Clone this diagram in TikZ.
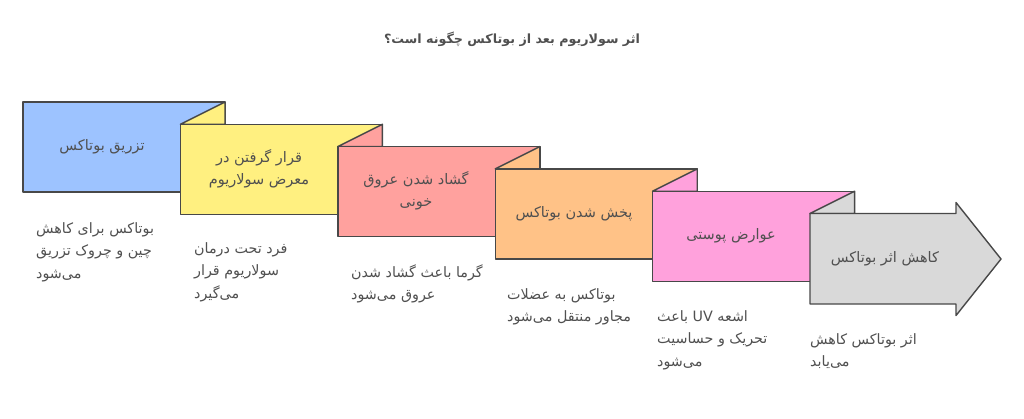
\documentclass[tikz,border=0pt]{standalone}
\usepackage{fontspec}
\newfontfamily\arabicfont[Script=Arabic]{DejaVu Sans}
\TeXXeTstate=1
\usepackage{xcolor}
\usepackage{tikz}
\definecolor{boxblue}{RGB}{157,195,255}
\definecolor{boxyellow}{RGB}{255,240,128}
\definecolor{boxred}{RGB}{255,161,158}
\definecolor{boxorange}{RGB}{255,194,135}
\definecolor{boxpink}{RGB}{255,161,220}
\definecolor{boxgray}{RGB}{217,217,217}
\definecolor{linegray}{RGB}{72,72,72}
\definecolor{txtgray}{RGB}{80,80,80}

\begin{document}
\begin{tikzpicture}[
    x=1pt, y=-1pt,
    panel/.style={draw=linegray, line width=1.4pt, line join=round},
    steplabel/.style={text=txtgray, font=\arabicfont\fontsize{14.5}{22}\selectfont, align=center},
    note/.style={text=txtgray, font=\arabicfont\fontsize{14.3}{22.5}\selectfont, align=left, anchor=north west, inner sep=0pt}
]
    \useasboundingbox (0,0) rectangle (1024,418);

    % Title
    \node[text=txtgray, font=\arabicfont\bfseries\fontsize{12.7}{15}\selectfont] (title) at (512,39)
        {\beginR اثر سولاریوم بعد از بوتاکس چگونه است؟\endR};

    % Folded panels
    \foreach \i/\col/\nxt in {0/boxblue/boxyellow, 1/boxyellow/boxred, 2/boxred/boxorange, 3/boxorange/boxpink, 4/boxpink/boxgray} {
        \draw[panel, fill=\col] ({23+157.4*\i},{102+22.3*\i}) rectangle ++(202,90);
        \draw[panel, fill=\nxt] ({23+157.4*(\i+1)},{102+22.3*(\i+1)}) -- ({225+157.4*\i},{102+22.3*\i})
            -- ({225+157.4*\i},{102+22.3*(\i+1)}) -- cycle;
    }

    % Arrow
    \draw[panel, fill=boxgray] (810,213.5) -- (956,213.5) -- (956,202.5) -- (1001,259) -- (956,315.5)
        -- (956,304) -- (810,304) -- cycle;

    % Step labels
    \foreach \name/\x/\y/\txt in {
        s1/102/147/{\beginR تزریق بوتاکس\endR},
        s2/259/169/{\beginR قرار گرفتن در\endR\\\beginR معرض سولاریوم\endR},
        s3/416/191/{\beginR گشاد شدن عروق\endR\\\beginR خونی\endR},
        s4/574/214/{\beginR پخش شدن بوتاکس\endR},
        s5/731/236/{\beginR عوارض پوستی\endR},
        s6/885/259/{\beginR کاهش اثر بوتاکس\endR}} {
        \node[steplabel] (\name) at (\x,\y) {\txt};
    }

    % Notes
    \foreach \name/\x/\y/\txt in {
        n1/36/222/{\beginR بوتاکس برای کاهش\endR\\\beginR چین و چروک تزریق\endR\\\beginR می‌شود\endR},
        n2/194/242/{\beginR فرد تحت درمان\endR\\\beginR سولاریوم قرار\endR\\\beginR می‌گیرد\endR},
        n3/351/264/{\beginR گرما باعث گشاد شدن\endR\\\beginR عروق می‌شود\endR},
        n4/507/288/{\beginR بوتاکس به عضلات\endR\\\beginR مجاور منتقل می‌شود\endR},
        n5/657/310/{\beginR اشعه UV باعث\endR\\\beginR تحریک و حساسیت\endR\\\beginR می‌شود\endR},
        n6/810/333/{\beginR اثر بوتاکس کاهش\endR\\\beginR می‌یابد\endR}} {
        \node[note] (\name) at (\x,\y) {\txt};
    }
\end{tikzpicture}
\end{document}
